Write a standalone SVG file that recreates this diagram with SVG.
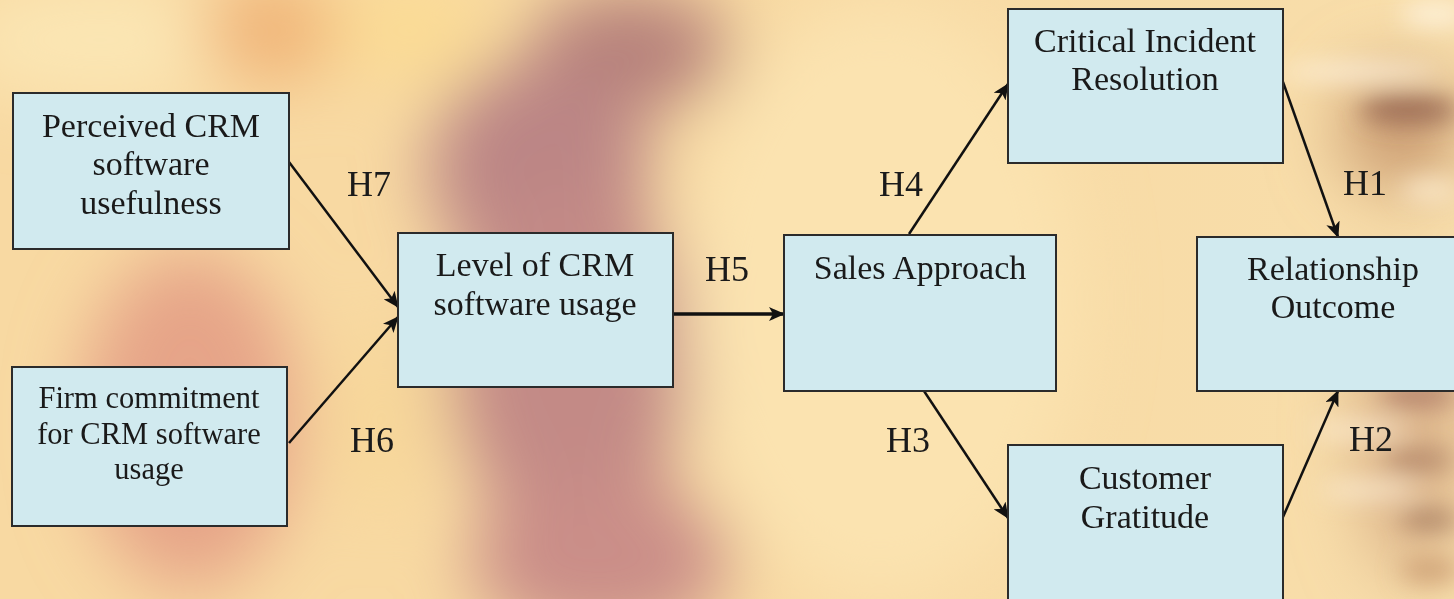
<svg xmlns="http://www.w3.org/2000/svg" width="1454" height="599" viewBox="0 0 1454 599">
<style>
.box{fill:#d1eaef;stroke:#2b2b2b;stroke-width:2}
.t{font-family:"Liberation Serif","Times New Roman",serif;font-size:34px;fill:#1a1a1a;text-anchor:middle}
.ts{font-size:30.5px}
.h{font-family:"Liberation Serif","Times New Roman",serif;font-size:36px;fill:#1a1a1a;text-anchor:middle}
.c{stroke:#111;stroke-width:2.5;fill:none;marker-end:url(#ah)}
</style>
<defs>
<marker id="ah" markerWidth="16" markerHeight="14" refX="15" refY="7" orient="auto" markerUnits="userSpaceOnUse">
<path d="M0,0 L16,7 L0,14 L4,7 Z" fill="#111"/>
</marker>
<filter id="blur" x="-50%" y="-50%" width="200%" height="200%"><feGaussianBlur stdDeviation="35"/></filter>
<filter id="blur2" x="-50%" y="-50%" width="200%" height="200%"><feGaussianBlur stdDeviation="12"/></filter>
<linearGradient id="bg" x1="0" y1="0" x2="1" y2="0">
<stop offset="0" stop-color="#f8d9a2"/>
<stop offset="0.5" stop-color="#f8d9a2"/>
<stop offset="1" stop-color="#f8deab"/>
</linearGradient>
</defs>
<g id="background">
<rect width="1454" height="599" fill="url(#bg)"/>
<g filter="url(#blur)">
<ellipse cx="100" cy="40" rx="150" ry="60" fill="#fbe6b4"/>
<ellipse cx="270" cy="30" rx="70" ry="50" fill="#f0b276"/>
<ellipse cx="410" cy="30" rx="80" ry="50" fill="#fbdc94"/>
<ellipse cx="630" cy="50" rx="100" ry="60" fill="#b5807a"/>
<ellipse cx="540" cy="170" rx="110" ry="110" fill="#bb8585"/>
<ellipse cx="570" cy="360" rx="120" ry="180" fill="#c38a86"/>
<ellipse cx="600" cy="560" rx="130" ry="80" fill="#ca8e88"/>
<ellipse cx="190" cy="420" rx="110" ry="170" fill="#e6a488"/>
<ellipse cx="380" cy="420" rx="55" ry="90" fill="#f7d79a"/>
<ellipse cx="880" cy="300" rx="200" ry="300" fill="#fbe3b0"/>
<ellipse cx="1400" cy="130" rx="60" ry="60" fill="#c99a70"/>
<ellipse cx="1410" cy="430" rx="50" ry="150" fill="#d8ae86"/>
</g>
<g filter="url(#blur2)">
<ellipse cx="1435" cy="14" rx="35" ry="12" fill="#fff6e6" opacity="0.8"/>
<ellipse cx="1360" cy="72" rx="80" ry="9" fill="#fff5e4" opacity="0.8"/>
<ellipse cx="1410" cy="110" rx="50" ry="14" fill="#8e5e4c" opacity="0.8"/>
<ellipse cx="1430" cy="190" rx="30" ry="10" fill="#fff0d8" opacity="0.8"/>
<ellipse cx="1390" cy="360" rx="50" ry="8" fill="#fff1da" opacity="0.8"/>
<ellipse cx="1420" cy="395" rx="40" ry="10" fill="#a26d5e" opacity="0.8"/>
<ellipse cx="1360" cy="430" rx="50" ry="8" fill="#fff1da" opacity="0.8"/>
<ellipse cx="1420" cy="460" rx="35" ry="10" fill="#a77b60" opacity="0.8"/>
<ellipse cx="1370" cy="490" rx="50" ry="8" fill="#fff2dc" opacity="0.8"/>
<ellipse cx="1430" cy="520" rx="30" ry="10" fill="#9c7258" opacity="0.8"/>
<ellipse cx="1430" cy="570" rx="30" ry="14" fill="#c99a70" opacity="0.8"/>
</g>
</g>
<g id="connectors">
<line class="c" x1="289" y1="162" x2="398" y2="307"/>
<line class="c" x1="289" y1="443" x2="398" y2="317"/>
<line class="c" x1="673" y1="314" x2="784" y2="314" style="stroke-width:3.5"/>
<line class="c" x1="909" y1="234" x2="1008" y2="84"/>
<line class="c" x1="1283" y1="82" x2="1338" y2="237"/>
<line class="c" x1="924" y1="391" x2="1008" y2="518"/>
<line class="c" x1="1283" y1="517" x2="1338" y2="391"/>
<text class="h" x="369" y="196">H7</text>
<text class="h" x="372" y="452">H6</text>
<text class="h" x="727" y="281">H5</text>
<text class="h" x="901" y="196">H4</text>
<text class="h" x="1365" y="195">H1</text>
<text class="h" x="908" y="452">H3</text>
<text class="h" x="1371" y="451">H2</text>
</g>
<g id="perceived">
<rect class="box" x="13" y="93" width="276" height="156"/>
<text class="t" x="151" y="137">Perceived CRM</text>
<text class="t" x="151" y="175">software</text>
<text class="t" x="151" y="214">usefulness</text>
</g>
<g id="firm">
<rect class="box" x="12" y="367" width="275" height="159"/>
<text class="t ts" x="149" y="408">Firm commitment</text>
<text class="t ts" x="149" y="444">for CRM software</text>
<text class="t ts" x="149" y="479">usage</text>
</g>
<g id="level">
<rect class="box" x="398" y="233" width="275" height="154"/>
<text class="t" x="535" y="276">Level of CRM</text>
<text class="t" x="535" y="315">software usage</text>
</g>
<g id="sales">
<rect class="box" x="784" y="235" width="272" height="156"/>
<text class="t" x="920" y="279">Sales Approach</text>
</g>
<g id="critical">
<rect class="box" x="1008" y="9" width="275" height="154"/>
<text class="t" x="1145" y="52">Critical Incident</text>
<text class="t" x="1145" y="90">Resolution</text>
</g>
<g id="relationship">
<rect class="box" x="1197" y="237" width="270" height="154"/>
<text class="t" x="1333" y="280">Relationship</text>
<text class="t" x="1333" y="318">Outcome</text>
</g>
<g id="gratitude">
<rect class="box" x="1008" y="445" width="275" height="170"/>
<text class="t" x="1145" y="489">Customer</text>
<text class="t" x="1145" y="528">Gratitude</text>
</g>
</svg>
